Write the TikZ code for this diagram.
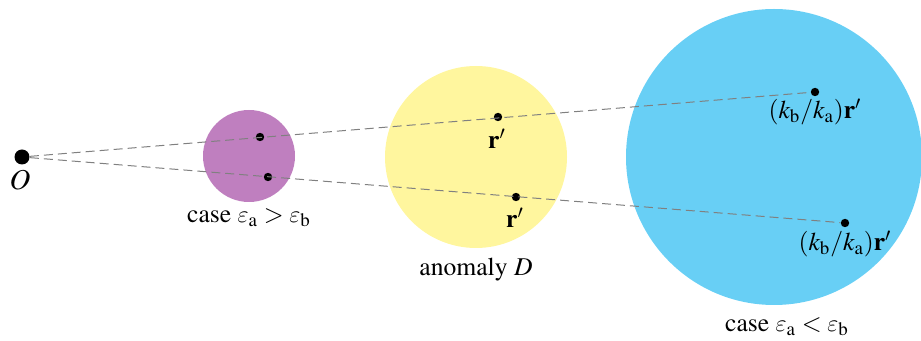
\documentclass[tikz,border=0pt]{standalone}
\usepackage[T1]{fontenc}
\usepackage{mathptmx}
\usepackage{tikz}
\DeclareSymbolFont{cmletters}{OML}{cmm}{m}{it}
\DeclareMathSymbol{\vareps}{\mathord}{cmletters}{"22}
\definecolor{casegt}{RGB}{191,127,191}
\definecolor{anomaly}{RGB}{255,246,158}
\definecolor{caselt}{RGB}{104,207,245}
\newcommand{\ea}{\vareps_{\mathrm a}}
\newcommand{\eb}{\vareps_{\mathrm b}}
\newcommand{\kr}{(k_{\mathrm b}/k_{\mathrm a})\mathbf r'}

\begin{document}
\begin{tikzpicture}[x=0.5pt,y=-0.5pt,font=\fontsize{12.8}{15}\selectfont]
\tikzset{pt/.style={circle,fill=black,inner sep=0pt,minimum size=4.2pt},
ray/.style={gray,line width=0.5pt,dash pattern=on 4.5pt off 2.5pt}}
\useasboundingbox (0,0) rectangle (921,341);
\fill[casegt] (249,156) circle (46);
\fill[anomaly] (476,157) circle (91);
\fill[caselt] (774,157) circle (148);
\node[circle,fill=black,inner sep=0pt,minimum size=7.5pt] (O) at (22,157) {};
\node (Olab) at (20,180) {\Large$O$};
\node[pt] (pa1) at (260,137) {};\node[pt] (pa2) at (268,177) {};
\node[pt] (r1) at (498,117) {};\node[pt] (r2) at (516,197) {};
\node[pt] (pb1) at (815,92) {};\node[pt] (pb2) at (845,223) {};
\draw[ray] (O) -- (pb1);
\draw[ray] (O) -- (pb2);
\node at (497,139) {$\mathbf r'$};\node at (515,218) {$\mathbf r'$};
\node at (815,112) {$\kr$};\node at (845,244) {$\kr$};
\node at (249,218) {case $\ea>\eb$};
\node at (476,270) {anomaly $D$};
\node at (787,327) {case $\ea<\eb$};
\end{tikzpicture}
\end{document}
